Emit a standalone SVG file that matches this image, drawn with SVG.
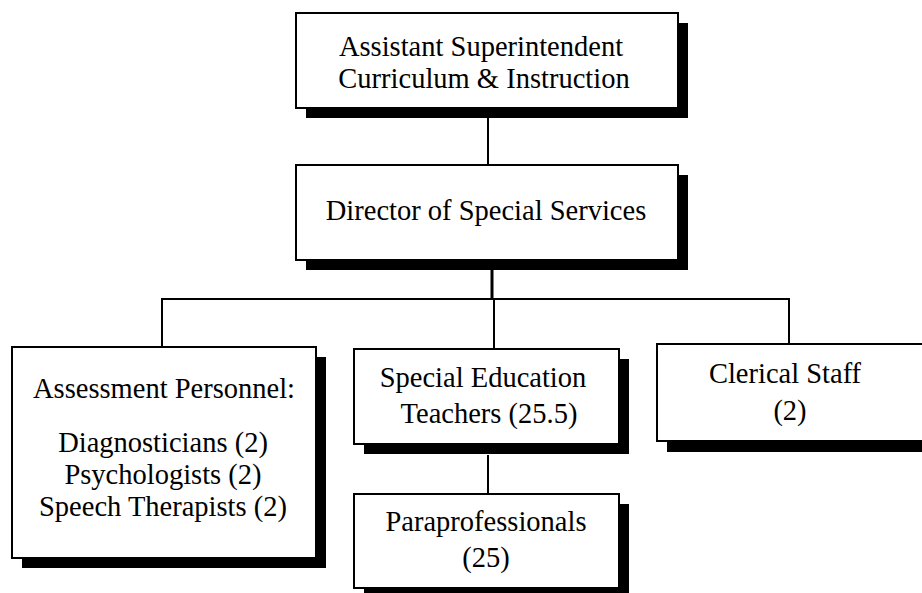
<svg xmlns="http://www.w3.org/2000/svg" width="922" height="593" viewBox="0 0 922 593">
<rect width="922" height="593" fill="#fff"/>
<g id="connectors" stroke="#000" stroke-width="2" fill="none">
<line x1="488" y1="118" x2="488" y2="165"/>
<line x1="492" y1="260" x2="492" y2="299" stroke-width="3"/>
<line x1="161" y1="299" x2="790" y2="299"/>
<line x1="162" y1="299" x2="162" y2="347"/>
<line x1="494" y1="299" x2="494" y2="349"/>
<line x1="789" y1="299" x2="789" y2="344"/>
<line x1="488" y1="455" x2="488" y2="494"/>
</g>
<g id="asst-super">
<rect x="306" y="23" width="382" height="95" fill="#000"/>
<rect x="296" y="13" width="382" height="95" fill="#fff" stroke="#000" stroke-width="2"/>
<text font-family="Liberation Serif" font-size="28.5" text-anchor="middle" x="481" y="56">Assistant Superintendent</text>
<text font-family="Liberation Serif" font-size="28.5" text-anchor="middle" x="484" y="88">Curriculum &amp; Instruction</text>
</g>
<g id="director">
<rect x="306" y="175" width="382" height="95" fill="#000"/>
<rect x="296" y="165" width="382" height="95" fill="#fff" stroke="#000" stroke-width="2"/>
<text font-family="Liberation Serif" font-size="28.5" text-anchor="middle" x="486" y="220">Director of Special Services</text>
</g>
<g id="assessment">
<rect x="22" y="357" width="304" height="211" fill="#000"/>
<rect x="12" y="347" width="304" height="211" fill="#fff" stroke="#000" stroke-width="2"/>
<text font-family="Liberation Serif" font-size="28.5" text-anchor="middle" x="164" y="398">Assessment Personnel:</text>
<text font-family="Liberation Serif" font-size="28.5" text-anchor="middle" x="163" y="452">Diagnosticians (2)</text>
<text font-family="Liberation Serif" font-size="28.5" text-anchor="middle" x="163" y="484">Psychologists (2)</text>
<text font-family="Liberation Serif" font-size="28.5" text-anchor="middle" x="163" y="516">Speech Therapists (2)</text>
</g>
<g id="sped-teachers">
<rect x="364" y="359" width="265" height="95" fill="#000"/>
<rect x="354" y="349" width="265" height="95" fill="#fff" stroke="#000" stroke-width="2"/>
<text font-family="Liberation Serif" font-size="28.5" text-anchor="middle" x="483" y="387">Special Education</text>
<text font-family="Liberation Serif" font-size="28.5" text-anchor="middle" x="489" y="423">Teachers (25.5)</text>
</g>
<g id="paraprofessionals">
<rect x="364" y="504" width="265" height="94" fill="#000"/>
<rect x="354" y="494" width="265" height="94" fill="#fff" stroke="#000" stroke-width="2"/>
<text font-family="Liberation Serif" font-size="28.5" text-anchor="middle" x="486" y="531">Paraprofessionals</text>
<text font-family="Liberation Serif" font-size="28.5" text-anchor="middle" x="486" y="567">(25)</text>
</g>
<g id="clerical">
<rect x="667" y="354" width="280" height="98" fill="#000"/>
<rect x="657" y="344" width="280" height="97" fill="#fff" stroke="#000" stroke-width="2"/>
<text font-family="Liberation Serif" font-size="28.5" text-anchor="middle" x="785" y="383">Clerical Staff</text>
<text font-family="Liberation Serif" font-size="28.5" text-anchor="middle" x="790" y="420">(2)</text>
</g>
</svg>
